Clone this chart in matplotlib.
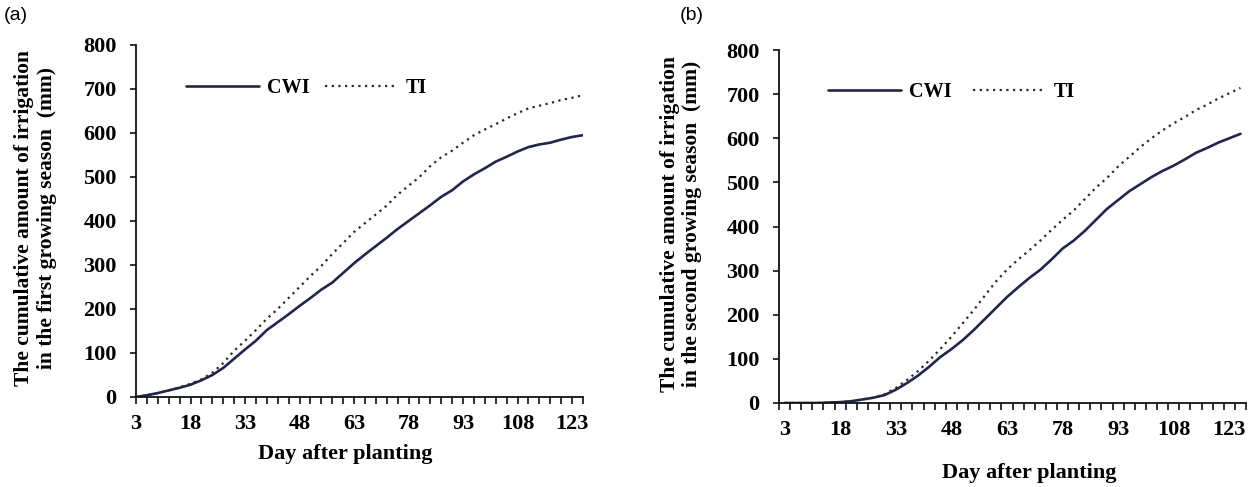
import matplotlib
matplotlib.use("Agg")
import matplotlib.pyplot as plt
import numpy as np

# ---------------- data ----------------
days = [3, 6, 9, 12, 15, 18, 21, 24, 27, 30, 33, 36, 39, 42, 45, 48, 51, 54, 57, 60, 63,
        66, 69, 72, 75, 78, 81, 84, 87, 90, 93, 96, 99, 102, 105, 108, 111, 114, 117, 120, 123, 126]

cwi_a = [0, 4, 9, 15, 21, 28, 38, 50, 66, 87, 108, 128, 152, 170, 188, 207, 225, 244, 260, 282, 304,
         324, 343, 362, 382, 400, 418, 436, 455, 470, 490, 506, 520, 535, 546, 558, 568, 574, 578, 585, 591, 595]
ti_a = [0, 4, 9, 15, 22, 30, 40, 55, 77, 105, 128, 152, 178, 200, 225, 250, 275, 298, 325, 350, 375,
        395, 415, 435, 460, 480, 500, 525, 545, 560, 578, 595, 608, 620, 633, 645, 656, 662, 668, 675, 680, 686]

cwi_b = [0, 0, 0, 0, 1, 2, 4, 8, 12, 18, 30, 45, 62, 82, 104, 122, 142, 165, 190, 215, 240,
         262, 283, 302, 325, 350, 368, 390, 415, 440, 460, 480, 496, 512, 526, 538, 552, 567, 578, 590, 600, 610]
ti_b = [0, 0, 0, 0, 1, 2, 4, 8, 12, 20, 34, 52, 72, 96, 122, 150, 180, 210, 243, 275, 302,
        325, 346, 368, 392, 415, 436, 462, 488, 510, 536, 558, 580, 600, 618, 634, 648, 664, 676, 690, 702, 714]

xtick_labels = [3, 18, 33, 48, 63, 78, 93, 108, 123]
yticks = [0, 100, 200, 300, 400, 500, 600, 700, 800]

ylabel_a = "The cumulative amount of irrigation\nin the first growing season  (mm)"
ylabel_b = "The cumulative amount of irrigation\nin the second growing season  (mm)"
xlabel = "Day after planting"

# ---------------- style ----------------
W, H = 1257, 487
fig = plt.figure(figsize=(W / 100, H / 100), dpi=100)
SERIF = "Liberation Serif"
NAVY = "#1d2657"
DOT = "#2a2a2a"

def fx(px):
    return px / W

def fy(py):
    return 1 - py / H

def setup(ax, left, right, top, bottom, between):
    ax.set_position([fx(left), fy(bottom), fx(right - left), (bottom - top) / H])
    for s in ["top", "right"]:
        ax.spines[s].set_visible(False)
    for s in ["left", "bottom"]:
        ax.spines[s].set_linewidth(1.3)
        ax.spines[s].set_color("#111111")
    ax.set_ylim(0, 800)
    ax.set_yticks(yticks)
    ax.set_yticklabels([str(v) for v in yticks])
    if between:
        ax.set_xlim(days[0] - 1.5, days[-1] + 1.5)
        tickpos = [d - 1.5 for d in days] + [days[-1] + 1.5]
    else:
        ax.set_xlim(days[0], days[-1])
        tickpos = days
    ax.xaxis.remove_overlapping_locs = False
    ax.set_xticks(tickpos)
    ax.set_xticklabels([])
    ax.set_xticks(xtick_labels, minor=True)
    ax.set_xticklabels([str(v) for v in xtick_labels], minor=True)
    ax.tick_params(axis="x", which="major", direction="out", length=5, width=1.2, color="#111111")
    ax.tick_params(axis="x", which="minor", length=0, pad=12)
    ax.tick_params(axis="y", direction="out", length=4, width=1.2, color="#111111", pad=10)
    for lab in ax.get_xticklabels(minor=True) + ax.get_yticklabels():
        lab.set_fontfamily(SERIF)
        lab.set_fontweight("bold")
        lab.set_fontsize(16)

ax1 = fig.add_axes([0, 0, 1, 1])
ax2 = fig.add_axes([0, 0, 1, 1])
setup(ax1, 136, 583, 45, 397, between=False)
setup(ax2, 779, 1246, 50, 403, between=True)

for ax, cwi, ti in [(ax1, cwi_a, ti_a), (ax2, cwi_b, ti_b)]:
    ax.plot(days, cwi, color=NAVY, lw=1.9, label="CWI", solid_capstyle="round")
    ax.plot(days, ti, color=DOT, lw=1.6, linestyle=(0, (1, 2.0)), label="TI")

leg_kw = dict(ncol=2, frameon=False, handlelength=3.6, handletextpad=0.4, columnspacing=0.8,
              prop={"family": SERIF, "weight": "bold", "size": 14.5}, borderaxespad=0, borderpad=0)
ax1.legend(loc="center left", bbox_to_anchor=(fx(186), fy(88)), bbox_transform=fig.transFigure, **leg_kw)
leg_kw["columnspacing"] = 1.1
ax2.legend(loc="center left", bbox_to_anchor=(fx(828), fy(92)), bbox_transform=fig.transFigure, **leg_kw)

fig.text(fx(36), fy(218), ylabel_a, rotation=90, ha="center", va="center", ma="center",
         fontfamily=SERIF, fontweight="bold", fontsize=15.5, linespacing=1.2)
fig.text(fx(681), fy(224), ylabel_b, rotation=90, ha="center", va="center", ma="center",
         fontfamily=SERIF, fontweight="bold", fontsize=15.5, linespacing=1.2)

fig.text(fx(345), fy(454), xlabel, ha="center", va="center",
         fontfamily=SERIF, fontweight="bold", fontsize=16)
fig.text(fx(1029), fy(473), xlabel, ha="center", va="center",
         fontfamily=SERIF, fontweight="bold", fontsize=16)

fig.text(fx(4), fy(15), "(a)", ha="left", va="center", fontfamily="Liberation Sans", fontsize=14)
fig.text(fx(680), fy(15), "(b)", ha="left", va="center", fontfamily="Liberation Sans", fontsize=14)

fig.savefig("out.png", dpi=100, facecolor="white")
